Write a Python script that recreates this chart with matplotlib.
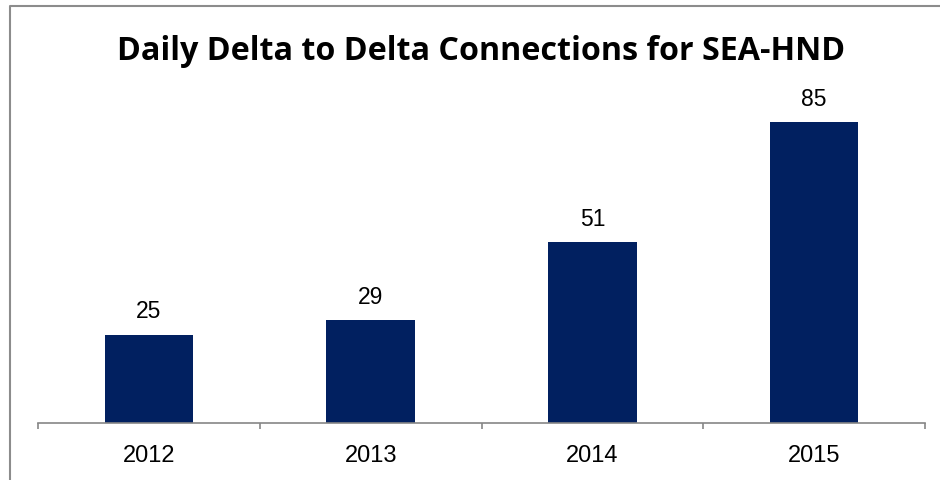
import matplotlib
matplotlib.use("Agg")
import matplotlib.pyplot as plt
from matplotlib.lines import Line2D

categories = ["2012", "2013", "2014", "2015"]
values = [25, 29, 51, 85]
title = "Daily Delta to Delta Connections for SEA-HND"

W, H = 940, 481
fig = plt.figure(figsize=(W / 100, H / 100), dpi=100)
ax = fig.add_axes([38 / W, 1 - 424 / H, (925 - 38) / W, (424 - 105.4) / H])

x = list(range(len(categories)))
ax.bar(x, values, width=0.4, color="#012060", zorder=2)
ax.set_xlim(-0.5, len(categories) - 0.5)
ax.set_ylim(0, 90)

for xi, v in zip(x, values):
    ax.annotate(str(v), (xi, v), xytext=(0, 9), textcoords="offset points",
                ha="center", va="bottom", fontsize=16.5, family="Liberation Sans",
                color="black")

for s in ["left", "right", "top"]:
    ax.spines[s].set_visible(False)
ax.spines["bottom"].set_color("#868686")
ax.spines["bottom"].set_linewidth(1.2)
ax.set_yticks([])
ax.set_xticks(x)
ax.set_xticklabels(categories, fontsize=17, family="Liberation Sans")
ax.tick_params(axis="x", which="major", length=0, pad=15)
ax.set_xticks([i - 0.5 for i in range(len(categories) + 1)], minor=True)
ax.tick_params(axis="x", which="minor", length=4, width=1.2, color="#868686", direction="out")

fig.text(481 / W, 1 - 51 / H, title, ha="center", va="center", fontsize=23.2,
         fontweight="bold", family="Open Sans")

# chart frame (top and left edges visible)
fig.add_artist(Line2D([10 / W, 10 / W, 1.0], [0.0, 1 - 7 / H, 1 - 7 / H],
                      transform=fig.transFigure, color="#8c8c8c", linewidth=1.5))

fig.savefig("out.png", dpi=100)
